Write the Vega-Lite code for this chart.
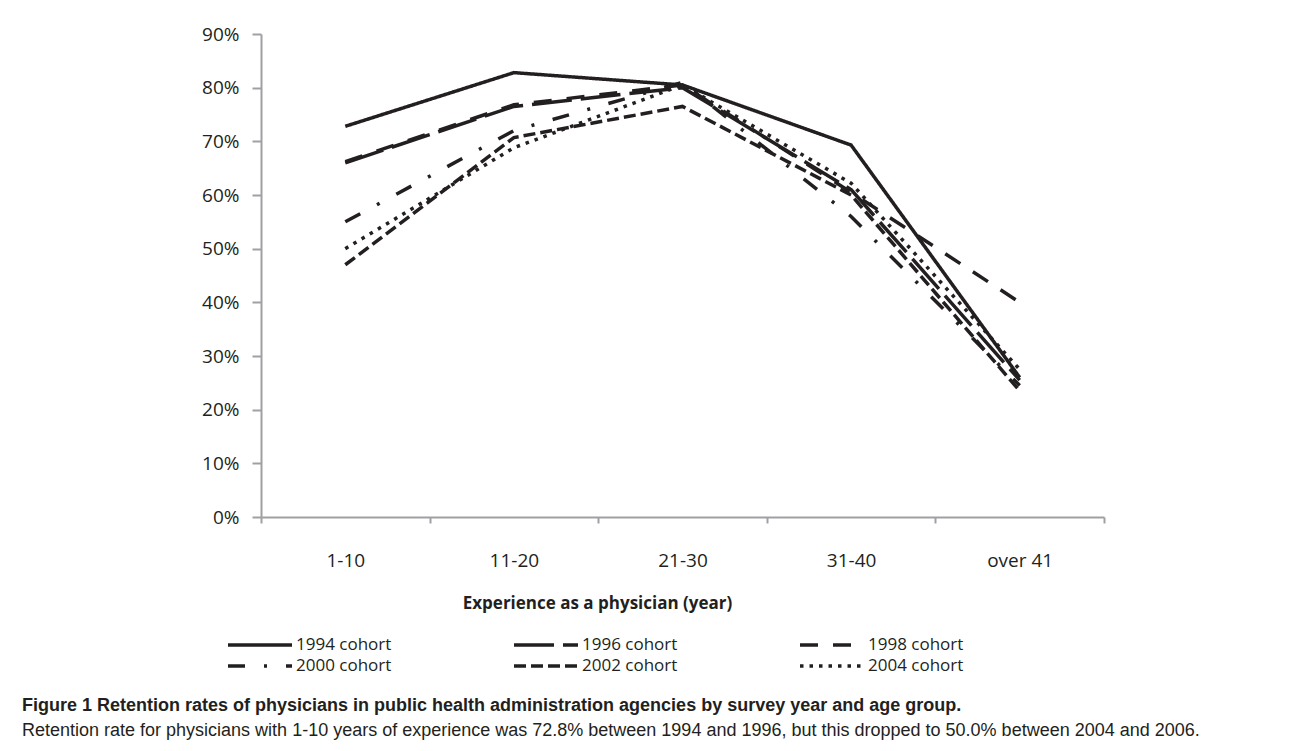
{
  "$schema": "https://vega.github.io/schema/vega-lite/v6.json",
  "autosize": {"type": "none"},
  "width": 843,
  "height": 483,
  "padding": {"left": 261, "top": 34, "right": 186, "bottom": 234},
  "background": "white",
  "title": {
    "text": "Figure 1 Retention rates of physicians in public health administration agencies by survey year and age group.",
    "subtitle": "Retention rate for physicians with 1-10 years of experience was 72.8% between 1994 and 1996, but this dropped to 50.0% between 2004 and 2006.",
    "orient": "bottom",
    "anchor": "start",
    "frame": "group",
    "dx": -239,
    "offset": 23,
    "font": "Liberation Sans",
    "fontSize": 18,
    "fontWeight": "bold",
    "color": "#231f20",
    "subtitleFont": "Liberation Sans",
    "subtitleFontSize": 18,
    "subtitleColor": "#231f20",
    "subtitlePadding": 7
  },
  "data": {
    "values": [
      {"group": "1-10", "cohort": "1994 cohort", "rate": 0.728},
      {"group": "11-20", "cohort": "1994 cohort", "rate": 0.828},
      {"group": "21-30", "cohort": "1994 cohort", "rate": 0.805},
      {"group": "31-40", "cohort": "1994 cohort", "rate": 0.693},
      {"group": "over 41", "cohort": "1994 cohort", "rate": 0.26},
      {"group": "1-10", "cohort": "1996 cohort", "rate": 0.66},
      {"group": "11-20", "cohort": "1996 cohort", "rate": 0.765},
      {"group": "21-30", "cohort": "1996 cohort", "rate": 0.80},
      {"group": "31-40", "cohort": "1996 cohort", "rate": 0.61},
      {"group": "over 41", "cohort": "1996 cohort", "rate": 0.255},
      {"group": "1-10", "cohort": "1998 cohort", "rate": 0.662},
      {"group": "11-20", "cohort": "1998 cohort", "rate": 0.768},
      {"group": "21-30", "cohort": "1998 cohort", "rate": 0.805},
      {"group": "31-40", "cohort": "1998 cohort", "rate": 0.605},
      {"group": "over 41", "cohort": "1998 cohort", "rate": 0.40},
      {"group": "1-10", "cohort": "2000 cohort", "rate": 0.55},
      {"group": "11-20", "cohort": "2000 cohort", "rate": 0.72},
      {"group": "21-30", "cohort": "2000 cohort", "rate": 0.81},
      {"group": "31-40", "cohort": "2000 cohort", "rate": 0.56},
      {"group": "over 41", "cohort": "2000 cohort", "rate": 0.245},
      {"group": "1-10", "cohort": "2002 cohort", "rate": 0.47},
      {"group": "11-20", "cohort": "2002 cohort", "rate": 0.707},
      {"group": "21-30", "cohort": "2002 cohort", "rate": 0.765},
      {"group": "31-40", "cohort": "2002 cohort", "rate": 0.60},
      {"group": "over 41", "cohort": "2002 cohort", "rate": 0.235},
      {"group": "1-10", "cohort": "2004 cohort", "rate": 0.50},
      {"group": "11-20", "cohort": "2004 cohort", "rate": 0.688},
      {"group": "21-30", "cohort": "2004 cohort", "rate": 0.805},
      {"group": "31-40", "cohort": "2004 cohort", "rate": 0.622},
      {"group": "over 41", "cohort": "2004 cohort", "rate": 0.275}
    ]
  },
  "mark": {"type": "line", "color": "#231f20", "strokeWidth": 3.5},
  "encoding": {
    "x": {
      "field": "group",
      "type": "nominal",
      "sort": ["1-10", "11-20", "21-30", "31-40", "over 41"],
      "bandPosition": 0.5,
      "scale": {"type": "band", "paddingInner": 0, "paddingOuter": 0},
      "axis": {
        "title": "Experience as a physician  (year)",
        "labelAngle": 0,
        "tickBand": "extent",
        "domainColor": "#a0a0a4",
        "domainWidth": 2,
        "tickColor": "#a0a0a4",
        "tickWidth": 2,
        "tickSize": 6,
        "labelFont": "Open Sans",
        "labelFontSize": 19,
        "labelColor": "#231f20",
        "labelPadding": 28,
        "titleFont": "Open Sans",
        "titleFontSize": 17,
        "titleFontWeight": "bold",
        "titleColor": "#231f20",
        "titleX": 336,
        "titleY": 86,
        "titleBaseline": "middle",
        "titleAlign": "center"
      }
    },
    "y": {
      "field": "rate",
      "type": "quantitative",
      "scale": {"domain": [0, 0.9], "nice": false},
      "axis": {
        "title": null,
        "format": ".0%",
        "values": [0, 0.1, 0.2, 0.3, 0.4, 0.5, 0.6, 0.7, 0.8, 0.9],
        "grid": false,
        "domainColor": "#a0a0a4",
        "domainWidth": 2,
        "tickColor": "#a0a0a4",
        "tickWidth": 2,
        "tickSize": 9,
        "labelFont": "Open Sans",
        "labelFontSize": 19,
        "labelColor": "#231f20",
        "labelPadding": 13
      }
    },
    "strokeDash": {
      "field": "cohort",
      "type": "nominal",
      "scale": {
        "domain": ["1994 cohort", "2000 cohort", "1996 cohort", "2002 cohort", "1998 cohort", "2004 cohort"],
        "range": [[1, 0], [17, 19, 3, 19], [40, 9], [12, 5], [18, 15], [3.5, 6]]
      },
      "legend": {
        "title": null,
        "orient": "none",
        "legendX": -11,
        "legendY": 601,
        "columns": 3,
        "columnPadding": 115,
        "rowPadding": 3,
        "symbolType": "M-4,0H4",
        "symbolSize": 256,
        "symbolStrokeColor": "#231f20",
        "symbolStrokeWidth": 3.5,
        "labelFont": "Open Sans",
        "labelFontSize": 17,
        "labelColor": "#231f20",
        "labelOffset": 26
      }
    }
  },
  "config": {"view": {"stroke": null}}
}
